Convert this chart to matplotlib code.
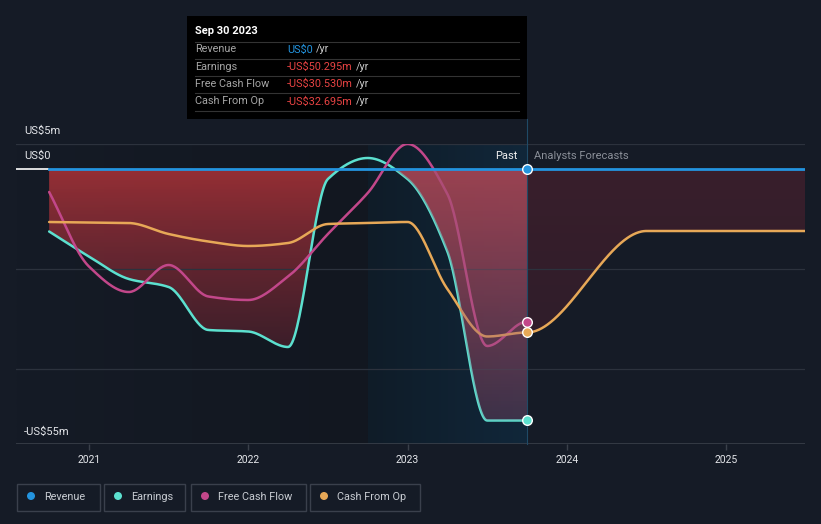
import numpy as np
import matplotlib.pyplot as plt
from matplotlib.patches import Rectangle, Circle
from matplotlib.lines import Line2D
from matplotlib.transforms import Affine2D

plt.rcParams['font.family'] = ['Roboto', 'DejaVu Sans']

# history, quarterly (decimal years), US$m
hist_t = [2020.75, 2021.0, 2021.25, 2021.5, 2021.75, 2022.0, 2022.25,
          2022.5, 2022.75, 2023.0, 2023.25, 2023.5, 2023.75]
revenue = [0, 0, 0, 0, 0, 0, 0, 0, 0, 0, 0, 0, 0]
earnings = [-12.5, -17.5, -22.0, -23.6, -32.2, -32.5, -35.6,
            -2.0, 2.2, -2.0, -16.5, -50.3, -50.295]
fcf = [-4.6, -19.5, -24.6, -19.2, -25.5, -26.2, -21.5,
       -13.0, -4.8, 5.0, -5.0, -35.4, -30.53]
cfo = [-10.6, -10.7, -10.8, -13.0, -14.5, -15.4, -14.8,
       -11.0, -10.8, -10.6, -24.0, -33.5, -32.695]

# analyst forecasts
fc_t = [2023.75, 2024.5, 2025.5]
revenue_fc = [0, 0, 0]
cfo_fc = [-32.695, -12.4, -12.4]

year_ticks = [2021, 2022, 2023, 2024, 2025]

BG = '#151b26'
C_REV = '#2394df'
C_EARN = '#5ce0cf'
C_FCF = '#c2478a'
C_CFO = '#e7a857'


def pchip(x, y, n=400):
    # monotone cubic (Fritsch-Carlson) smoothing
    x = np.asarray(x, float)
    y = np.asarray(y, float)
    h = np.diff(x)
    d = np.diff(y) / h
    m = np.zeros_like(y)
    for i in range(1, len(y) - 1):
        if d[i - 1] * d[i] > 0:
            w1 = 2 * h[i] + h[i - 1]
            w2 = h[i] + 2 * h[i - 1]
            m[i] = (w1 + w2) / (w1 / d[i - 1] + w2 / d[i])
    m[0] = d[0]
    m[-1] = d[-1]
    if len(y) > 2:
        m[0] = 0 if d[0] * d[1] <= 0 else d[0]
        m[-1] = 0 if d[-1] * d[-2] <= 0 else d[-1]
    xs = np.linspace(x[0], x[-1], n)
    idx = np.clip(np.searchsorted(x, xs) - 1, 0, len(h) - 1)
    t = (xs - x[idx]) / h[idx]
    h00 = 2 * t**3 - 3 * t**2 + 1
    h10 = t**3 - 2 * t**2 + t
    h01 = -2 * t**3 + 3 * t**2
    h11 = t**3 - t**2
    ys = h00 * y[idx] + h10 * h[idx] * m[idx] + h01 * y[idx + 1] + h11 * h[idx] * m[idx + 1]
    return xs, ys


def grad_img(top, bot, n=256):
    a = np.linspace(0, 1, n)
    img = np.zeros((n, 1, 4))
    for i in range(4):
        img[:, 0, i] = bot[i] + (top[i] - bot[i]) * a
    return img


def grad_fill(ax, t, y, top, bot, ylo, yhi, z, xr=None):
    poly = ax.fill_between(t, 0, y, facecolor='none', edgecolor='none')
    xa, xb = xr if xr else (t[0], t[-1])
    im = ax.imshow(grad_img(top, bot), extent=[xa, xb, ylo, yhi], origin='lower',
                   aspect='auto', zorder=z, interpolation='bilinear')
    im.set_clip_path(poly.get_paths()[0], transform=ax.transData)


def hband(ax, c_left, c_right, xa, xb):
    n = 256
    img = np.zeros((1, n, 4))
    l = np.array(c_left) / 255
    r = np.array(c_right) / 255
    for i in range(n):
        img[0, i] = l + (r - l) * i / (n - 1)
    ax.imshow(img, extent=[xa, xb, -55, 5], aspect='auto', zorder=0,
              interpolation='bilinear')


fig = plt.figure(figsize=(8.21, 5.24), dpi=100, facecolor=BG)
W, H = 821, 524
pix = Affine2D().scale(1 / W, -1 / H).translate(0, 1) + fig.transFigure

x0, x1 = 2020.542, 2025.495
ax = fig.add_axes([16 / W, 80 / H, 789 / W, 300 / H])
ax.set_facecolor(BG)

# background bands
hband(ax, (0x15, 0x1b, 0x26, 255), (0x12, 0x17, 0x20, 255), x0, 2022.75)
hband(ax, (0x0f, 0x1c, 0x28, 255), (0x11, 0x27, 0x3a, 255), 2022.75, 2023.75)

# gridlines
for g in [5, -20, -40]:
    ax.axhline(g, color='#2c323d', lw=0.9, zorder=2)
ax.axhline(-55, color='#3a404a', lw=1.2, zorder=2)
ax.hlines(0, x0, hist_t[0], color='white', lw=1.2, zorder=2)

# smoothed series
te, ye = pchip(hist_t, earnings)
tf, yf = pchip(hist_t, fcf)
tc, yc = pchip(hist_t, cfo)
tcf, ycf = pchip(fc_t, cfo_fc)

grad_fill(ax, te, ye, (0.68, 0.20, 0.22, 0.85), (0.45, 0.15, 0.22, 0.15), -52, 0, 1)
grad_fill(ax, tcf, ycf, (0.55, 0.15, 0.22, 0.30), (0.55, 0.15, 0.22, 0.22), -35, 0, 1)
# lighter tint over the last year of history, drawn over the lines
grad_fill(ax, te, ye, (0.62, 0.32, 0.40, 0.55), (0.55, 0.35, 0.50, 0.25), -52, 0, 4,
          xr=(2022.75, 2023.75))

ax.plot(te, ye, color=C_EARN, lw=1.8, zorder=3, solid_capstyle='round')
ax.plot(tf, yf, color=C_FCF, lw=1.8, zorder=3, solid_capstyle='round')
ax.plot(tc, yc, color=C_CFO, lw=1.8, zorder=3, solid_capstyle='round')
ax.plot(tcf, ycf, color=C_CFO, lw=1.8, zorder=3, solid_capstyle='round')
ax.plot(hist_t, revenue, color=C_REV, lw=2, zorder=5)
ax.plot(fc_t, revenue_fc, color=C_REV, lw=2, zorder=5)

# "now" marker line
ax.axvline(hist_t[-1], ymin=0, ymax=(444 - 119) / 300, color='#1f4a66',
           lw=0.8, zorder=5, clip_on=False)

for val, col in [(revenue[-1], C_REV), (fcf[-1], C_FCF), (cfo[-1], C_CFO), (earnings[-1], C_EARN)]:
    ax.scatter([hist_t[-1]], [val], s=48, color=col, edgecolor='white',
               linewidth=1, zorder=6)

ax.set_xlim(x0, x1)
ax.set_ylim(-55, 5)

# axes styling
for s in ax.spines.values():
    s.set_visible(False)
ax.set_yticks([])
ax.set_xticks(year_ticks)
ax.set_xticklabels([str(y) for y in year_ticks])
ax.tick_params(axis='x', colors='#3a404a', length=4, width=1, pad=4,
               labelcolor='#e4e6ea', labelsize=7.5)

# y labels
for txt, py in [('US$5m', 131), ('US$0', 156), ('-US$55m', 432)]:
    fig.text(24, py, txt, transform=pix, color='#e4e6ea', fontsize=8, va='center')

fig.text(517, 156, 'Past', transform=pix, color='#f0f0f0', fontsize=8,
         va='center', ha='right')
fig.text(534, 156, 'Analysts Forecasts', transform=pix, color='#8a8f98',
         fontsize=8, va='center')

# tooltip
fig.add_artist(Rectangle((187, 16), 340, 103, transform=pix, facecolor='black',
                         edgecolor='none', zorder=6))
fig.text(195, 31, 'Sep 30 2023', transform=pix, color='white', fontsize=8,
         fontweight='bold', va='center', zorder=7)
for sy in [42, 59, 76, 93, 111]:
    fig.add_artist(Line2D([195, 519], [sy, sy], transform=pix, color='#333333',
                          lw=0.8, zorder=7))
rows = [('Revenue', 'US$0', C_REV),
        ('Earnings', '-US$50.295m', '#e84343'),
        ('Free Cash Flow', '-US$30.530m', '#e84343'),
        ('Cash From Op', '-US$32.695m', '#e84343')]
for i, (lab, val, col) in enumerate(rows):
    ry = 49.5 + i * 17.3
    fig.text(195, ry, lab, transform=pix, color='#a6a6a6', fontsize=7.8,
             va='center', zorder=7)
    t = fig.text(287, ry, val, transform=pix, color=col, fontsize=7.8,
                 va='center', zorder=7)
    fig.canvas.draw()
    bb = t.get_window_extent()
    fig.text(bb.x1 + 3, H - ry, '/yr', transform=None, color='#c8c8c8',
             fontsize=7.8, va='center', zorder=7)

# legend
legend = [('Revenue', C_REV, 16, 99), ('Earnings', C_EARN, 103, 184),
          ('Free Cash Flow', C_FCF, 190, 305), ('Cash From Op', C_CFO, 309, 419)]
for lab, col, lx0, lx1 in legend:
    fig.add_artist(Rectangle((lx0 + 0.5, 484), lx1 - lx0, 27, transform=pix,
                             facecolor='none', edgecolor='#3a404c', lw=1))
    fig.add_artist(Circle((lx0 + 15, 496), 4, transform=pix, facecolor=col,
                          edgecolor='none'))
    fig.text(lx0 + 28, 496.5, lab, transform=pix, color='#c8ccd2', fontsize=7.8,
             va='center')

fig.savefig('out.png', dpi=100, facecolor=BG)
